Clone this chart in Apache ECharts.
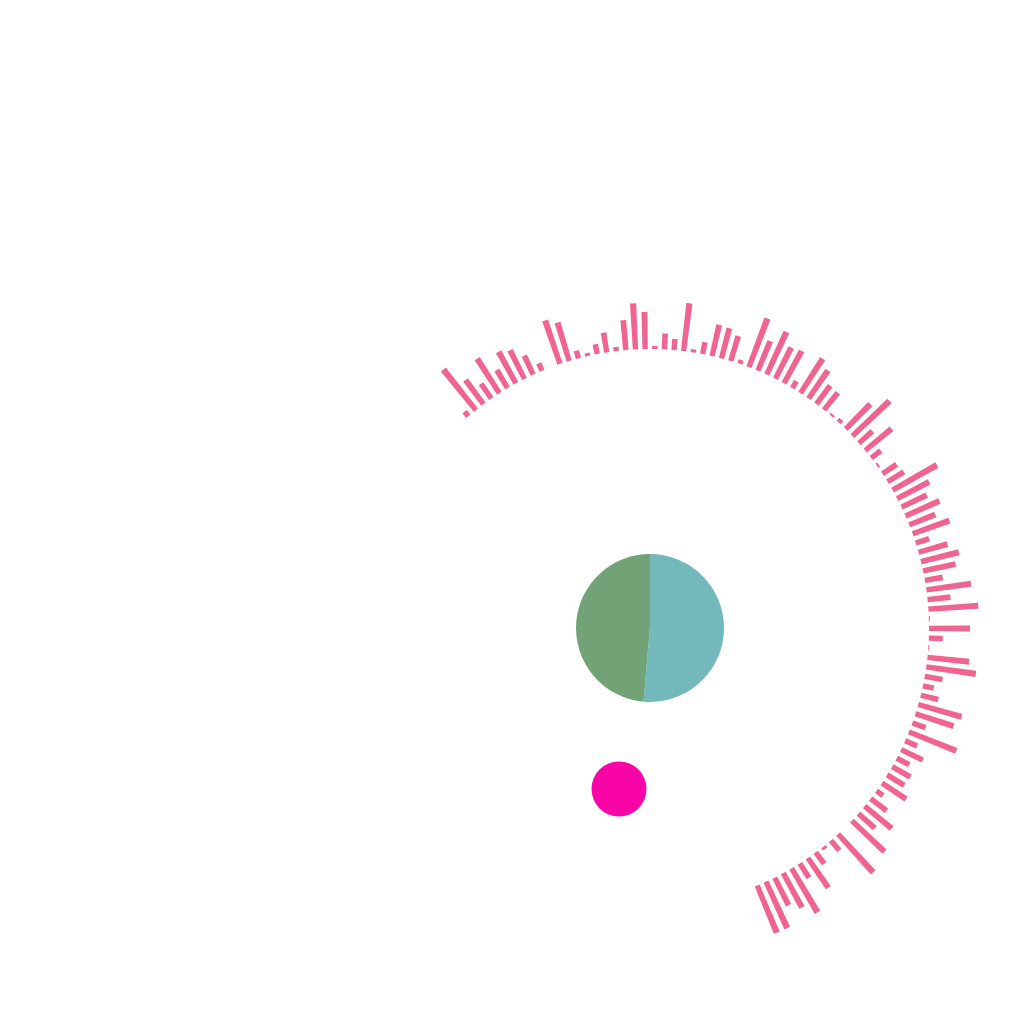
<!DOCTYPE html>
<html>
<head>
<meta charset="utf-8">
<script src="https://cdn.jsdelivr.net/npm/echarts@6/dist/echarts.min.js"></script>
<style>
html,body{margin:0;padding:0;background:#fff;}
#main{width:1024px;height:1024px;}
</style>
</head>
<body>
<div id="main"></div>
<script>
// ---- data ----
var barValues = [
  6, 52, 30, 18, 41, 21, 36, 32, 21, 8,
  0, 46, 40, 8, 3, 10, 20, 4, 30, 46,
  37, 3, 16, 11, 48, 3, 12, 32, 31, 26,
  4, 52, 32, 47, 35, 37, 8, 41, 34, 23,
  22, 2, 4, 35, 51, 18, 34, 12, 2, 17,
  19, 51, 36, 28, 37, 28, 39, 14, 30, 39,
  33, 18, 45, 23, 50, 1, 41, 14, 1, 42,
  50, 18, 11, 18, 45, 40, 14, 51, 13, 24,
  14, 21, 20, 29, 8, 20, 35, 22, 45, 0,
  52, 13, 3, 14, 36, 17, 51, 39, 31, 51,
  51
];
var barCategories = barValues.map(function (v, i) { return 'c' + i; });
var pieNames = ['A', 'B'];
var pieValues = [51.4, 48.6];
var dotPoint = [619, 789];

var chart = echarts.init(document.getElementById('main'), null, {renderer: 'canvas'});
var option = {
  backgroundColor: '#ffffff',
  animation: false,
  polar: {
    center: [650, 628],
    radius: [279, 379]
  },
  angleAxis: {
    type: 'category',
    data: barCategories,
    startAngle: 131.6,
    endAngle: -68.4,
    clockwise: true,
    show: false
  },
  radiusAxis: {
    type: 'value',
    min: 0,
    max: 100,
    show: false
  },
  grid: {left: 0, top: 0, width: 1024, height: 1024, show: false},
  xAxis: {type: 'value', min: 0, max: 1024, show: false},
  yAxis: {type: 'value', min: 0, max: 1024, inverse: true, show: false},
  series: [
    {
      type: 'bar',
      coordinateSystem: 'polar',
      data: barValues,
      barWidth: '55%',
      itemStyle: {color: '#f0648f'},
      silent: true
    },
    {
      type: 'pie',
      center: [650, 628],
      radius: [0, 74],
      startAngle: 90,
      clockwise: true,
      label: {show: false},
      labelLine: {show: false},
      silent: true,
      data: pieNames.map(function (n, i) {
        return {name: n, value: pieValues[i], itemStyle: {color: i === 0 ? '#73b9bc' : '#72a376'}};
      })
    },
    {
      type: 'scatter',
      xAxisIndex: 0,
      yAxisIndex: 0,
      symbolSize: 55,
      itemStyle: {color: '#f905a7', opacity: 1},
      silent: true,
      data: [dotPoint]
    }
  ]
};
chart.setOption(option);
</script>
</body>
</html>
